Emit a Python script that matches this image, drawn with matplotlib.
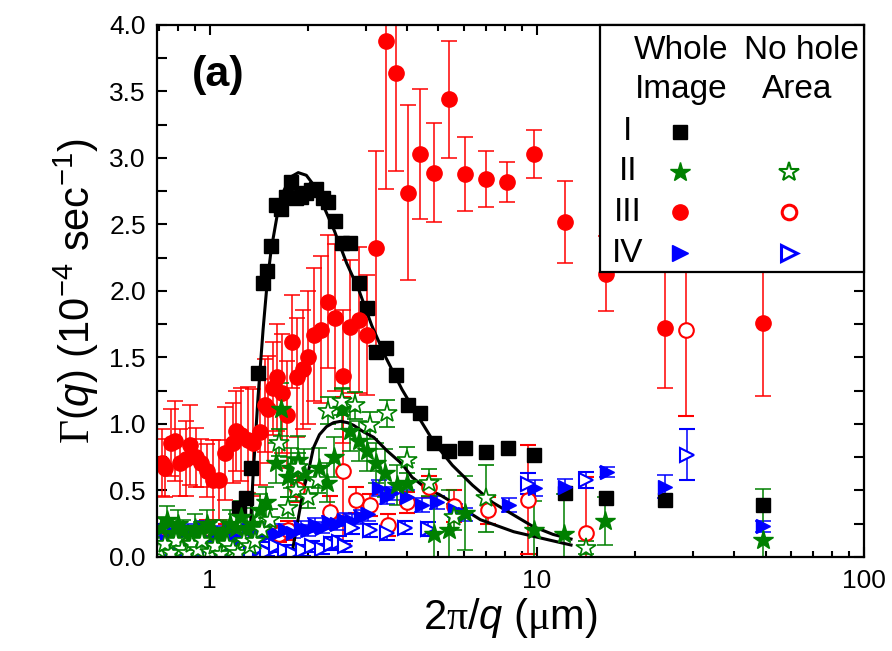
import matplotlib
matplotlib.use('Agg')
import matplotlib.pyplot as plt
from matplotlib.ticker import MultipleLocator, LogLocator, NullFormatter, FixedLocator, FixedFormatter
from matplotlib.patches import Rectangle

plt.rcParams['font.family'] = ['Liberation Sans', 'DejaVu Sans']
plt.rcParams['mathtext.fontset'] = 'custom'
plt.rcParams['mathtext.rm'] = 'Liberation Serif'
plt.rcParams['mathtext.it'] = 'Liberation Sans:italic'
plt.rcParams['mathtext.sf'] = 'Liberation Sans'

# ---- data (2pi/q in um, Gamma in 1e-4 /s) ----
# I : whole image (black squares)
x_I = [1.228, 1.291, 1.337, 1.405, 1.456, 1.497, 1.541, 1.596, 1.654, 1.713, 1.775, 1.839,
       1.905, 1.974, 2.046, 2.119, 2.227, 2.307, 2.407, 2.530, 2.677, 2.854, 3.020, 3.219,
       3.454, 3.709, 4.039, 4.397, 4.855, 5.400, 6.048, 6.969, 8.141, 9.790, 12.20, 16.31,
       24.59, 49.24]
y_I = [0.37, 0.44, 0.67, 1.38, 2.06, 2.15, 2.34, 2.65, 2.62, 2.71, 2.82, 2.70,
       2.71, 2.74, 2.76, 2.77, 2.70, 2.67, 2.53, 2.36, 2.36, 2.06, 1.87, 1.54,
       1.57, 1.37, 1.14, 1.08, 0.86, 0.80, 0.82, 0.79, 0.82, 0.77, 0.48, 0.44,
       0.43, 0.39]

# II : whole image (filled stars)
x_II = [0.71, 0.74, 0.77, 0.80, 0.83, 0.87, 0.90, 0.94, 0.98, 1.02, 1.06, 1.10, 1.15, 1.20,
        1.25, 1.30, 1.36, 1.42, 1.487, 1.596, 1.654, 1.738, 1.775, 1.865, 1.946, 2.165,
        2.291, 2.390, 2.530, 2.677, 2.854, 3.020, 3.219, 3.430, 3.735, 4.010, 4.855, 5.400,
        6.048, 9.80, 12.11, 16.2, 49.24]
y_II = [0.22, 0.28, 0.18, 0.25, 0.20, 0.15, 0.22, 0.18, 0.25, 0.20, 0.12, 0.18, 0.25, 0.22,
        0.30, 0.20, 0.25, 0.35, 0.41, 0.71, 1.11, 0.60, 0.67, 0.73, 0.63, 0.67,
        0.56, 0.75, 1.11, 0.95, 0.87, 0.80, 0.71, 0.63, 0.54, 0.56, 0.17, 0.20,
        0.33, 0.20, 0.17, 0.27, 0.13]
e_II = [0.08, 0.10, 0.08, 0.10, 0.08, 0.08, 0.10, 0.08, 0.10, 0.08, 0.08, 0.10, 0.10, 0.10,
        0.12, 0.10, 0.12, 0.12, 0.12, 0.15, 0.20, 0.15, 0.15, 0.18, 0.18, 0.15,
        0.15, 0.15, 0.15, 0.15, 0.15, 0.15, 0.15, 0.18, 0.15, 0.15, 0.42, 0.30,
        0.28, 0.22, 0.30, 0.18, 0.38]

# II : no hole area (open stars)
x_IIn = [0.70, 0.73, 0.76, 0.79, 0.82, 0.85, 0.88, 0.92, 0.95, 1.00, 1.04, 1.08, 1.13, 1.18,
         1.22, 1.27, 1.33, 1.38, 1.44, 1.530, 1.631, 1.738, 1.839, 1.865, 2.002, 2.149,
         2.307, 2.530, 2.774, 3.085, 3.479, 4.010, 4.685, 5.595, 6.969, 14.15]
y_IIn = [0.05, 0.10, 0.03, 0.12, 0.06, 0.03, 0.10, 0.05, 0.12, 0.04, 0.08, 0.02, 0.10, 0.06,
         0.03, 0.12, 0.08, 0.12, 0.20, 0.28, 0.86, 0.37, 0.50, 0.68, 0.45, 0.58,
         1.10, 1.17, 1.14, 0.99, 1.08, 0.73, 0.56, 0.30, 0.44, 0.07]
e_IIn = [0.04, 0.05, 0.03, 0.05, 0.04, 0.03, 0.05, 0.04, 0.05, 0.04, 0.05, 0.02, 0.05, 0.04,
         0.03, 0.05, 0.05, 0.05, 0.06, 0.08, 0.10, 0.08, 0.08, 0.10, 0.08, 0.10,
         0.10, 0.10, 0.10, 0.10, 0.10, 0.10, 0.10, 0.10, 0.25, 0.05]

# III : whole image (filled circles)
x_III = [0.717, 0.732, 0.764, 0.786, 0.814, 0.844, 0.868, 0.906, 0.938, 0.979, 1.021, 1.066,
         1.112, 1.177, 1.202, 1.246, 1.309, 1.356, 1.425, 1.476, 1.508, 1.563, 1.608, 1.665,
         1.725, 1.788, 1.852, 1.932, 2.002, 2.089, 2.196, 2.307, 2.407, 2.548, 2.677, 2.854,
         3.020, 3.219, 3.454, 3.709, 4.039, 4.397, 4.855, 5.400, 6.048, 6.969, 8.084, 9.790,
         12.20, 16.31, 24.59, 49.24]
y_III = [0.71, 0.67, 0.86, 0.87, 0.71, 0.74, 0.84, 0.75, 0.71, 0.65, 0.58, 0.58,
         0.78, 0.86, 0.95, 0.92, 0.88, 0.86, 0.94, 1.14, 1.11, 1.27, 1.35, 1.23,
         1.07, 1.62, 1.35, 1.41, 1.50, 1.67, 1.71, 1.92, 1.80, 1.36, 1.73, 1.78,
         1.67, 2.32, 3.88, 3.64, 2.74, 3.03, 2.89, 3.44, 2.88, 2.84, 2.82, 3.03,
         2.52, 2.13, 1.72, 1.76]
e_III = [0.25, 0.22, 0.25, 0.30, 0.25, 0.28, 0.30, 0.22, 0.18, 0.20, 0.30, 0.30,
         0.35, 0.30, 0.30, 0.35, 0.40, 0.40, 0.40, 0.35, 0.40, 0.35, 0.40, 0.45,
         0.40, 0.35, 0.45, 0.45, 0.50, 0.50, 0.55, 0.50, 0.55, 0.50, 0.50, 0.55,
         0.45, 0.73, 1.11, 0.74, 0.66, 0.49, 0.37, 0.44, 0.28, 0.21, 0.15, 0.18,
         0.31, 0.28, 0.45, 0.55]

# III : no hole area (open circles)
x_IIIn = [0.75, 0.86, 0.98, 1.12, 1.25, 1.631, 1.738, 1.852, 2.324, 2.548, 2.794, 3.085,
          3.504, 4.010, 4.685, 5.595, 7.068, 9.383, 14.15, 28.54]
y_IIIn = [0.20, 0.17, 0.22, 0.19, 0.15, 0.17, 0.20, 0.51, 0.34, 0.65, 0.43, 0.39,
          0.24, 0.41, 0.53, 0.38, 0.35, 0.43, 0.18, 1.71]
e_IIIn = [0.05, 0.05, 0.06, 0.06, 0.05, 0.06, 0.07, 0.10, 0.12, 0.55, 0.10, 0.08,
          0.08, 0.08, 0.08, 0.12, 0.10, 0.41, 0.42, 0.65]

# IV : whole image (filled right triangles)
x_IV = [0.70, 0.74, 0.78, 0.82, 0.86, 0.90, 0.95, 1.00, 1.05, 1.10, 1.15, 1.20, 1.26, 1.32,
        1.38, 1.45, 1.52, 1.60, 1.70, 1.80, 1.90, 2.00, 2.10, 2.20, 2.32, 2.45, 2.58, 2.72,
        2.90, 3.05, 3.287, 3.479, 3.605, 4.010, 4.459, 4.959, 5.635, 6.048, 8.20, 9.86,
        12.20, 16.42, 24.59, 49.24]
y_IV = [0.20, 0.12, 0.18, 0.10, 0.20, 0.15, 0.22, 0.12, 0.18, 0.10, 0.20, 0.15, 0.12, 0.20,
        0.18, 0.15, 0.20, 0.17, 0.20, 0.18, 0.22, 0.20, 0.24, 0.22, 0.26, 0.25, 0.28, 0.27,
        0.30, 0.32, 0.52, 0.45, 0.48, 0.45, 0.39, 0.41, 0.35, 0.32, 0.39, 0.52,
        0.53, 0.64, 0.53, 0.23]
e_IV = [0.05, 0.04, 0.05, 0.04, 0.05, 0.04, 0.05, 0.04, 0.05, 0.04, 0.05, 0.04, 0.05, 0.05,
        0.05, 0.04, 0.05, 0.04, 0.05, 0.04, 0.05, 0.04, 0.05, 0.04, 0.05, 0.05, 0.05, 0.05,
        0.05, 0.05, 0.06, 0.05, 0.05, 0.05, 0.05, 0.05, 0.05, 0.05, 0.05, 0.06,
        0.06, 0.04, 0.09, 0.04]

# IV : no hole area (open right triangles)
x_IVn = [0.70, 0.75, 0.80, 0.85, 0.90, 0.95, 1.00, 1.06, 1.12, 1.19, 1.26, 1.34, 1.42, 1.50,
         1.60, 1.70, 1.80, 1.93, 2.05, 2.20, 2.35, 2.48, 2.60, 2.716, 3.085, 3.479, 3.953,
         4.652, 9.383, 14.15, 28.74]
y_IVn = [0.02, 0.05, 0.00, 0.06, 0.03, 0.07, 0.02, 0.05, 0.08, 0.03, 0.06, 0.02, 0.07, 0.04,
         0.08, 0.05, 0.03, 0.05, 0.08, 0.06, 0.10, 0.11, 0.08, 0.22, 0.20, 0.18, 0.22,
         0.21, 0.55, 0.58, 0.77]
e_IVn = [0.03, 0.04, 0.03, 0.04, 0.03, 0.04, 0.03, 0.04, 0.04, 0.03, 0.04, 0.03, 0.04, 0.03,
         0.04, 0.04, 0.03, 0.04, 0.04, 0.04, 0.05, 0.05, 0.04, 0.05, 0.05, 0.05, 0.05,
         0.05, 0.08, 0.06, 0.19]

# fit curves
fit1_x = [1.318, 1.356, 1.405, 1.456, 1.497, 1.541, 1.608, 1.689, 1.775, 1.865, 1.974, 2.089,
          2.227, 2.407, 2.621, 2.854, 3.129, 3.454, 3.870, 4.304, 4.855, 5.516, 6.356, 7.323,
          8.437, 9.721, 11.20, 12.72]
fit1_y = [0.0, 0.60, 1.20, 1.71, 2.05, 2.31, 2.57, 2.76, 2.86, 2.89, 2.87, 2.79,
          2.64, 2.45, 2.21, 2.01, 1.74, 1.50, 1.26, 1.07, 0.86, 0.69, 0.54, 0.41,
          0.32, 0.23, 0.17, 0.135]
fit2_x = [1.775, 1.852, 1.932, 2.002, 2.075, 2.165, 2.275, 2.390, 2.512, 2.64, 2.754, 2.956,
          3.173, 3.479, 3.870, 4.155, 4.619, 5.030, 5.797, 6.726, 8.497, 10.81, 12.72]
fit2_y = [0.0, 0.25, 0.50, 0.64, 0.82, 0.92, 0.98, 1.01, 1.02, 1.01, 0.99, 0.94,
          0.90, 0.80, 0.70, 0.60, 0.51, 0.47, 0.38, 0.28, 0.19, 0.13, 0.09]

RED, GREEN, BLUE = '#ff0000', '#008000', '#0000ff'

fig = plt.figure(figsize=(8.92, 6.51), dpi=100)
ax = fig.add_axes([0.176, 0.1444, 0.7926, 0.8172])


def eb(x, y, e, color, **kw):
    ax.errorbar(x, y, yerr=e, color=color, ecolor=color, linestyle='none',
                capsize=5.5, elinewidth=1.1, capthick=1.1, **kw)


eb(x_III, y_III, e_III, RED, marker='o', ms=11, mfc=RED, mec=RED)
eb(x_IIIn, y_IIIn, e_IIIn, RED, marker='o', ms=10.5, mfc='white', mec=RED, mew=1.5)
eb(x_IV, y_IV, e_IV, BLUE, marker='>', ms=10.5, mfc=BLUE, mec=BLUE)
eb(x_IVn, y_IVn, e_IVn, BLUE, marker='>', ms=10.5, mfc='white', mec=BLUE, mew=1.5)
eb(x_II, y_II, e_II, GREEN, marker='*', ms=15, mfc=GREEN, mec=GREEN)
eb(x_IIn, y_IIn, e_IIn, GREEN, marker='*', ms=15, mfc='white', mec=GREEN, mew=1.2)
ax.plot(x_I, y_I, 's', color='black', ms=10, linestyle='none')
ax.plot(fit1_x, fit1_y, color='black', lw=2.2)
ax.plot(fit2_x, fit2_y, color='black', lw=2.2)

ax.set_xscale('log')
ax.set_xlim(0.69, 100)
ax.set_ylim(0, 4.0)
ax.xaxis.set_major_locator(FixedLocator([1, 10, 100]))
ax.xaxis.set_major_formatter(FixedFormatter(['1', '10', '100']))
ax.xaxis.set_minor_locator(LogLocator(base=10, subs=range(2, 10)))
ax.xaxis.set_minor_formatter(NullFormatter())
ax.yaxis.set_major_locator(MultipleLocator(0.5))
ax.yaxis.set_minor_locator(MultipleLocator(0.25))
ax.yaxis.set_major_formatter(plt.FuncFormatter(lambda v, p: f'{v:.1f}'))
ax.tick_params(which='both', direction='in', top=True, right=True, width=1.5, labelsize=19)
ax.tick_params(which='major', length=7)
ax.tick_params(which='minor', length=4)
ax.tick_params(axis='y', which='minor', length=7)
ax.tick_params(axis='x', pad=9)
ax.tick_params(axis='y', pad=8)
for s in ax.spines.values():
    s.set_linewidth(1.6)

ax.set_xlabel('2$\\mathrm{\\pi}$/$\\mathit{q}$ ($\\mathrm{\\mu}$m)', fontsize=30, labelpad=2)
ax.set_ylabel('$\\mathrm{\\Gamma}$($\\mathit{q}$) (10$^{\\mathsf{-4}}$ sec$^{\\mathsf{-1}}$)',
              fontsize=30, labelpad=6)

ax.text(0.05, 0.906, '(a)', transform=ax.transAxes, fontsize=31, fontweight='bold',
        va='center', ha='left')

# legend table
box = Rectangle((0.627, 0.536), 0.373, 0.464, transform=ax.transAxes, facecolor='white',
                edgecolor='black', lw=1.6, zorder=10, clip_on=False)
ax.add_patch(box)
for txt, xx, yy in [('Whole', 0.741, 0.953), ('Image', 0.741, 0.878),
                    ('No hole', 0.912, 0.953), ('Area', 0.905, 0.878)]:
    ax.text(xx, yy, txt, transform=ax.transAxes, fontsize=24, ha='center', va='center', zorder=11)

rows = [('I', 0.799, dict(marker='s', color='black', ms=10), None),
        ('II', 0.724, dict(marker='*', color=GREEN, ms=15),
         dict(marker='*', mfc='white', mec=GREEN, mew=1.5, ms=15)),
        ('III', 0.648, dict(marker='o', color=RED, ms=11),
         dict(marker='o', mfc='white', mec=RED, mew=2.2, ms=10.5)),
        ('IV', 0.571, dict(marker='>', color=BLUE, ms=11),
         dict(marker='>', mfc='white', mec=BLUE, mew=2.2, ms=11))]
for lab, yy, m1, m2 in rows:
    ax.text(0.666, yy, lab, transform=ax.transAxes, fontsize=24, ha='center', va='center', zorder=11)
    ax.plot([0.740], [yy], transform=ax.transAxes, linestyle='none', zorder=11, clip_on=False, **m1)
    if m2:
        ax.plot([0.894], [yy], transform=ax.transAxes, linestyle='none', zorder=11, clip_on=False, **m2)

fig.savefig('out.png', dpi=100)
